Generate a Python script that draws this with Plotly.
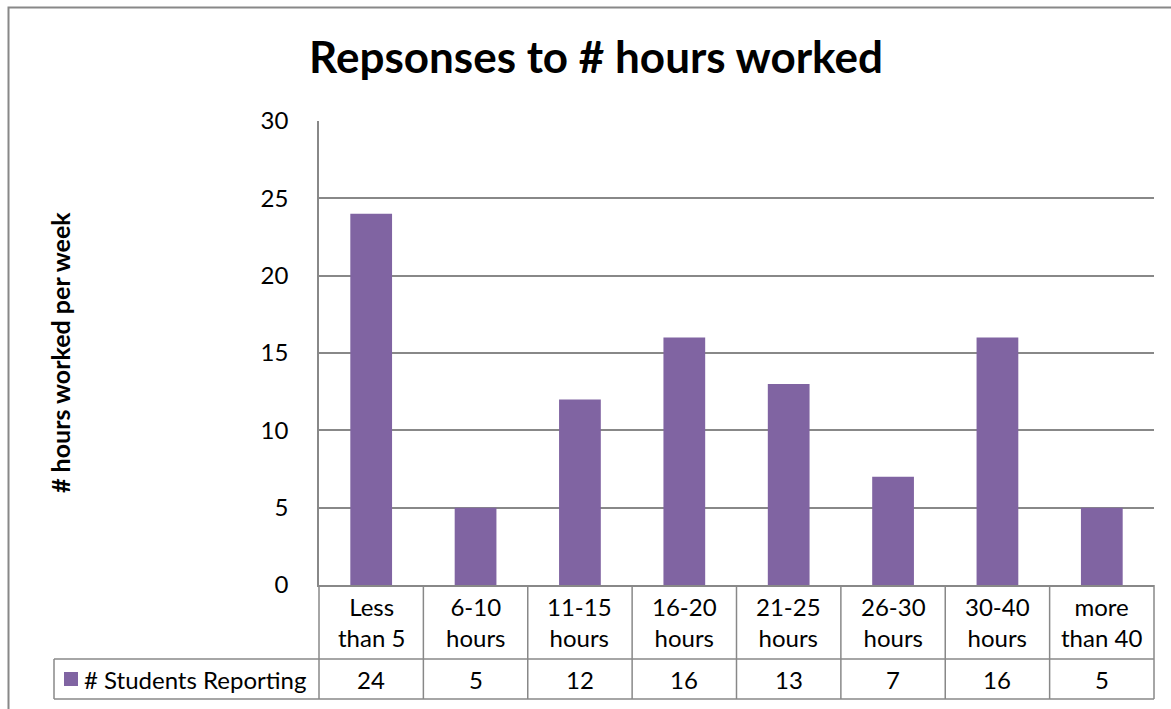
import plotly.graph_objects as go

categories = ["Less than 5", "6-10 hours", "11-15 hours", "16-20 hours",
              "21-25 hours", "26-30 hours", "30-40 hours", "more than 40"]
cat_labels = ["Less<br>than 5", "6-10<br>hours", "11-15<br>hours", "16-20<br>hours",
              "21-25<br>hours", "26-30<br>hours", "30-40<br>hours", "more<br>than 40"]
students = [24, 5, 12, 16, 13, 7, 16, 5]
series_name = "# Students Reporting"
title_text = "Repsonses to # hours worked"
y_title = "# hours worked per week"
y_ticks = [0, 5, 10, 15, 20, 25, 30]

W, H = 1171, 709
L, R, T, B = 319, 1154, 121, 585
PW, PH = R - L, B - T

def px_x(px):
    return (px - L) / PW

def px_y(py):
    return (B - py) / PH

FONT = "Lato"
PURPLE = "#8064A2"
GRAY = "#888888"

fig = go.Figure()
fig.add_trace(go.Bar(
    x=categories, y=students, name=series_name,
    marker=dict(color=PURPLE, line=dict(width=0)),
    width=0.4, showlegend=False,
))

shapes = []
line = dict(color=GRAY, width=1.5)
row1 = px_y(659)
row2 = px_y(699)
leg_left = px_x(54)
shapes.append(dict(type="line", xref="paper", yref="paper", x0=leg_left, x1=1, y0=row1, y1=row1, line=line))
shapes.append(dict(type="line", xref="paper", yref="paper", x0=leg_left, x1=1, y0=row2, y1=row2, line=line))
shapes.append(dict(type="line", xref="paper", yref="paper", x0=leg_left, x1=leg_left, y0=row1, y1=row2, line=line))
n = len(categories)
for i in range(n + 1):
    shapes.append(dict(type="line", xref="paper", yref="paper", x0=i / n, x1=i / n,
                       y0=0, y1=row2, line=line))
shapes.append(dict(type="rect", xref="paper", yref="paper",
                   x0=px_x(64), x1=px_x(78), y0=px_y(686), y1=px_y(672),
                   fillcolor=PURPLE, line=dict(width=0)))
shapes.append(dict(type="rect", xref="paper", yref="paper",
                   x0=px_x(8.5), x1=px_x(1250), y0=px_y(760), y1=px_y(7.5),
                   line=dict(color=GRAY, width=2), fillcolor="rgba(0,0,0,0)"))

TS = 24
annotations = []
for c, lab, v in zip(categories, cat_labels, students):
    annotations.append(dict(x=c, xref="x", y=px_y(622), yref="paper", text=lab,
                            showarrow=False, font=dict(family=FONT, size=TS, color="black"),
                            xanchor="center", yanchor="middle"))
    annotations.append(dict(x=c, xref="x", y=px_y(679), yref="paper", text=str(v),
                            showarrow=False, font=dict(family=FONT, size=TS, color="black"),
                            xanchor="center", yanchor="middle"))
annotations.append(dict(x=px_x(82), xref="paper", y=px_y(679), yref="paper", text=series_name,
                        showarrow=False, font=dict(family=FONT, size=TS, color="black"),
                        xanchor="left", yanchor="middle"))
annotations.append(dict(x=px_x(60), xref="paper", y=px_y(353), yref="paper", text="<b>" + y_title + "</b>",
                        showarrow=False, textangle=-90, font=dict(family=FONT, size=25, color="black"),
                        xanchor="center", yanchor="middle"))

fig.update_layout(
    width=W, height=H,
    margin=dict(l=L, r=W - R, t=T, b=H - B, pad=0),
    paper_bgcolor="white", plot_bgcolor="white",
    title=dict(text="<b>" + title_text + "</b>", x=596 / W, xanchor="center",
               y=1 - 58 / H, yanchor="middle", font=dict(family=FONT, size=44, color="black")),
    xaxis=dict(range=[-0.5, n - 0.5], showticklabels=False, showgrid=False,
               showline=True, linecolor=GRAY, linewidth=1.5, ticks=""),
    yaxis=dict(range=[0, 30], tickvals=y_ticks, showgrid=True, gridcolor=GRAY, gridwidth=1.5,
               showline=True, linecolor=GRAY, linewidth=1.5, ticks="", zeroline=False,
               ticklabelstandoff=24, tickfont=dict(family=FONT, size=24, color="black")),
    shapes=shapes,
    annotations=annotations,
    bargap=0.6,
)

fig.write_html("out.html", config={"displayModeBar": False},
               post_script="document.body.style.margin='0';document.body.style.overflow='hidden';")
